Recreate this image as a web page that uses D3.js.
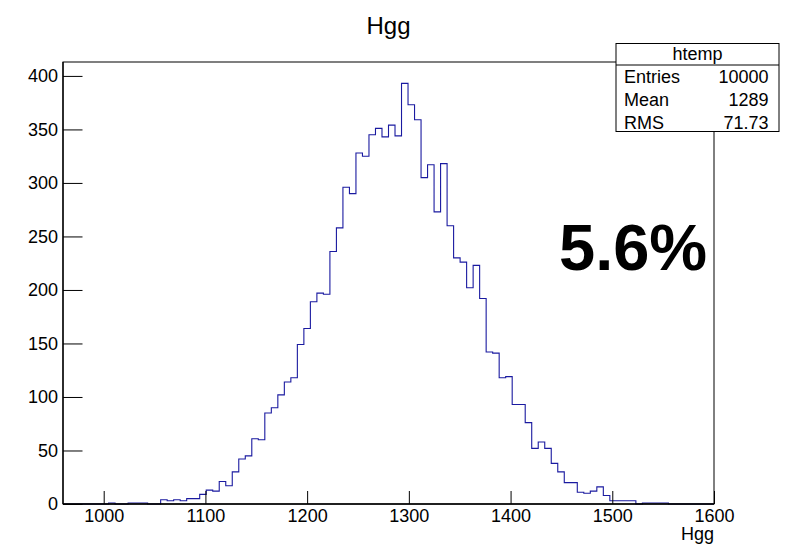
<!DOCTYPE html>
<html>
<head>
<meta charset="utf-8">
<script src="https://cdn.jsdelivr.net/npm/d3@7"></script>
<style>
  html, body { margin: 0; padding: 0; background: #fff; }
  svg { display: block; font-family: "Liberation Sans", Arial, Helvetica, sans-serif; }
</style>
</head>
<body>
<svg id="chart" width="801" height="544"></svg>
<script>
// ---- data ----
const histTitle = "Hgg";
const xAxisTitle = "Hgg";
const xMin = 960, xMax = 1600;           // histogram range (100 bins)
const yMax = 413;
const counts = [
  0, 0, 0, 0, 0, 0, 0, 1, 0, 0,
  1, 1, 1, 0, 0, 4, 3, 4, 3, 5,
  5, 9, 13, 12, 21, 17, 30, 42, 45, 61,
  60, 85, 90, 102, 114, 118, 149, 164, 189, 197,
  196, 236, 258, 296, 290, 328, 325, 345, 351, 343,
  354, 344, 393, 373, 359, 305, 317, 273, 318, 260,
  230, 226, 202, 223, 192, 142, 141, 118, 119, 93,
  93, 76, 52, 58, 52, 38, 30, 20, 20, 11,
  10, 12, 16, 8, 3, 3, 3, 3, 0, 1,
  1, 1, 1, 0, 0, 0, 0, 0, 0, 0
];
const xMajorTicks = [1000, 1100, 1200, 1300, 1400, 1500, 1600];
const yMajorTicks = [0, 50, 100, 150, 200, 250, 300, 350, 400];
const statsName = "htemp";
const statsLabels = ["Entries", "Mean", "RMS"];
const statsValues = ["10000", "1289", "71.73"];
const bigLabel = "5.6%";

// ---- layout ----
const svg = d3.select("#chart");
const frame = { left: 63, right: 714, top: 62, bottom: 504 };
const x = d3.scaleLinear().domain([xMin, xMax]).range([frame.left, frame.right]);
const y = d3.scaleLinear().domain([0, yMax]).range([frame.bottom, frame.top]);
const nb = counts.length;
const bw = (xMax - xMin) / nb;

const xMinor = d3.range(xMin, xMax + 0.001, 20);
const yMinor = d3.range(0, yMax, 10);

// histogram step path
let pts = [];
counts.forEach((c, i) => {
  const lo = xMin + i * bw, hi = xMin + (i + 1) * bw;
  pts.push([x(lo), y(c)], [x(hi), y(c)]);
});
const line = d3.line();
svg.append("path")
  .attr("d", line(pts))
  .attr("fill", "none")
  .attr("stroke", "#1a1aa0")
  .attr("stroke-width", 1.1);

// frame
svg.append("rect")
  .attr("x", frame.left).attr("y", frame.top)
  .attr("width", frame.right - frame.left).attr("height", frame.bottom - frame.top)
  .attr("fill", "none").attr("stroke", "#000").attr("stroke-width", 1);

const fmt = d3.format("d");

// y axis (ticks inside)
const gy = svg.append("g").attr("transform", `translate(${frame.left},0)`);
gy.call(d3.axisLeft(y).tickValues(yMinor).tickSize(-9.75).tickFormat(""));
gy.call(d3.axisLeft(y).tickValues(yMajorTicks).tickSize(-19.5).tickPadding(5).tickFormat(fmt));
gy.selectAll(".domain").remove();
gy.selectAll("line").attr("stroke", "#000");
gy.selectAll("text").attr("font-size", 18).attr("fill", "#000")
  .style("font-family", "'Liberation Sans', Arial, sans-serif");

// x axis (ticks inside)
const gx = svg.append("g").attr("transform", `translate(0,${frame.bottom})`);
gx.call(d3.axisBottom(x).tickValues(xMinor).tickSize(-6.5).tickFormat(""));
gx.call(d3.axisBottom(x).tickValues(xMajorTicks).tickSize(-13).tickPadding(5).tickFormat(fmt));
gx.selectAll(".domain").remove();
gx.selectAll("line").attr("stroke", "#000");
gx.selectAll("text").attr("font-size", 18).attr("fill", "#000")
  .style("font-family", "'Liberation Sans', Arial, sans-serif");

// axis lines
svg.append("line").attr("x1", frame.left).attr("x2", frame.left)
  .attr("y1", frame.top).attr("y2", frame.bottom).attr("stroke", "#000").attr("stroke-width", 1.3);
svg.append("line").attr("x1", frame.left).attr("x2", frame.right)
  .attr("y1", frame.bottom).attr("y2", frame.bottom).attr("stroke", "#000").attr("stroke-width", 1.3);

// x axis title
svg.append("text").attr("x", 714).attr("y", 540)
  .attr("text-anchor", "end").attr("font-size", 18).text(xAxisTitle);

// histogram title
svg.append("text").attr("x", (frame.left + frame.right) / 2).attr("y", 34)
  .attr("text-anchor", "middle").attr("font-size", 24).text(histTitle);

// stats box
const sb = { x: 616, y: 43.5, w: 163, h: 88, head: 21.5 };
svg.append("rect").attr("x", sb.x).attr("y", sb.y).attr("width", sb.w).attr("height", sb.h)
  .attr("fill", "#fff").attr("stroke", "#000").attr("stroke-width", 1);
svg.append("line").attr("x1", sb.x).attr("x2", sb.x + sb.w)
  .attr("y1", sb.y + sb.head).attr("y2", sb.y + sb.head).attr("stroke", "#000");
svg.append("text").attr("x", sb.x + sb.w / 2).attr("y", 60)
  .attr("text-anchor", "middle").attr("font-size", 18).text(statsName);
const rowBase = [83, 106, 128.5];
statsLabels.forEach((lab, i) => {
  svg.append("text").attr("x", 624).attr("y", rowBase[i]).attr("font-size", 18).text(lab);
  svg.append("text").attr("x", 768.5).attr("y", rowBase[i]).attr("text-anchor", "end")
    .attr("font-size", 18).text(statsValues[i]);
});

// big label
svg.append("text").attr("x", 559).attr("y", 269.5)
  .attr("font-size", 65).attr("font-weight", "bold").text(bigLabel);
</script>
</body>
</html>
